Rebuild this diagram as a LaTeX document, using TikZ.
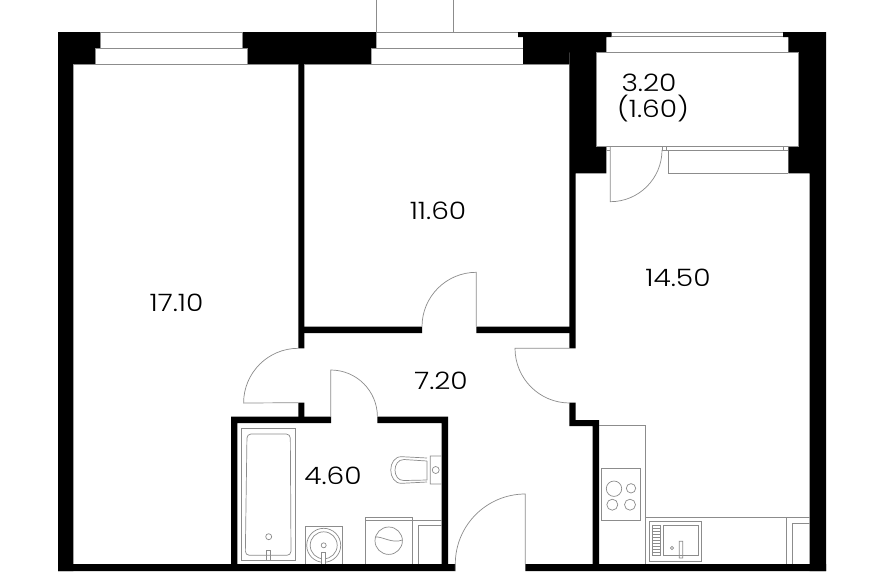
\documentclass[tikz,border=0pt]{standalone}
\usepackage{fontspec}
\setmainfont[FakeStretch=1.17]{Poppins Light}
\tikzset{
  wall/.style={fill=black,draw=none},
  thin line/.style={draw=black!45,line width=0.7pt,fill=none},
  area label/.style={font=\fontsize{24}{24}\selectfont,text=black,inner sep=0pt,anchor=center,align=center}
}
\begin{document}
\begin{tikzpicture}[x=1pt,y=-1pt]
\useasboundingbox (0,0) rectangle (883,571);
\fill[white] (0,0) rectangle (883,571);
% Exterior mass
\fill[wall] (58,32) rectangle (100.5,48) (58,48) rectangle (95.5,64) (58,64) rectangle (73.4,571);
\fill[wall] (242,32) rectangle (376.3,48) (247,48) rectangle (371.3,64);
\fill[wall] (518,32) rectangle (611.7,37) (523,37) rectangle (606.3,52.3) (523,48) rectangle (569.3,64);
\fill[wall] (569.3,52) rectangle (596.3,146) (569.3,146) rectangle (606.3,173.3) (569.3,173.3) rectangle (575.7,348.3);
\fill[wall] (783,32) rectangle (826,37) (788.3,37) rectangle (826,52.3) (798,52.3) rectangle (826,146) (788.3,146) rectangle (826,173.3) (809.7,173.3) rectangle (826,571);
% Bottom
\fill[wall] (58,564) rectangle (455.3,571) (525.3,564) rectangle (826,571);
% Partitions
\fill[wall] (298.3,64) rectangle (304.3,348.3) (298.3,402.7) rectangle (304.3,417);
\fill[wall] (304,326.7) rectangle (422,333) (476.3,326.7) rectangle (570,333);
\fill[wall] (569.3,402.7) rectangle (575.5,426) (569.3,420) rectangle (599,426) (592.7,420) rectangle (599,564);
\fill[wall] (231,416.7) rectangle (331,423) (377.3,416.7) rectangle (448,423) (231,416.7) rectangle (237.3,564) (441.7,416.7) rectangle (448,564);
% Windows
\draw[thin line] (100.5,32.3) -- (242,32.3) (95.5,48.3) -- (247,48.3) (73.4,64) -- (298.3,64);
\draw[thin line] (95.5,48.3) -- (95.5,64) (247,48.3) -- (247,64) (100.5,32.3) -- (100.5,48.3) (242,32.3) -- (242,48.3);
\draw[thin line] (376.3,0) -- (376.3,32.3) -- (518,32.3) (453.7,0) -- (453.7,32.3) (371.3,48.3) -- (523,48.3) (304.3,64) -- (569.3,64);
\draw[thin line] (611.7,32.3) -- (783,32.3) (611.7,36.7) -- (783,36.7) (606.3,52.3) -- (788.3,52.3) (596.3,52.3) rectangle (798,146);
\draw[thin line] (606.3,146) -- (606.3,150.3) -- (610.3,150.3) (662,146) -- (662,150.3) -- (668.3,150.3) (666,146) -- (666,150.3) (668.3,150.3) -- (783,150.3) -- (783,146) (783,150.3) -- (788.3,150.3) (668.3,150.3) -- (668.3,173.3) -- (788.3,173.3);
% Doors
\draw[thin line] (610.3,146) -- (610.3,201.7) arc[start angle=90,end angle=0,radius=51.7];
\draw[thin line] (476.3,326.7) -- (476.3,272.3) arc[start angle=-90,end angle=-180,radius=54.3];
\draw[thin line] (298.3,348.3) arc[start angle=-90,end angle=-180,radius=54.7] -- (298.3,402.7);
\draw[thin line] (569.7,348.3) -- (515,348.3) arc[start angle=180,end angle=90,radius=54.7];
\draw[thin line] (330.7,417) -- (330.7,370) arc[start angle=-90,end angle=0,radius=46.7];
\draw[thin line] (525.3,564) -- (525.3,494) arc[start angle=-90,end angle=-180,radius=70] -- (455.3,571);
% Bath
\draw[thin line] (241.7,428.3) rectangle (295.7,560.3);
\draw[thin line,rounded corners=4pt] (247,434) -- (290.3,434) -- (291,555.3) -- (245.3,555.3) -- cycle;
\draw[thin line] (268.7,536.7) circle[radius=3];
\draw[thin line] (266.3,560.3) -- (266.3,550.3) -- (270.3,550.3) -- (270.3,560.3);
% Basin
\draw[thin line] (305.3,564) -- (305.3,526.7) -- (342.7,526.7) -- (342.7,564);
\draw[thin line] (323.7,545.3) circle[radius=17] (323.7,545.3) circle[radius=13.5] (323.7,545.3) circle[radius=2.5];
\draw[thin line,fill=white] (321.7,564) -- (321.7,552.7) -- (325.3,552.7) -- (325.3,564);
% Washer
\draw[thin line] (365.3,564) -- (365.3,517.3) -- (412,517.3) -- (412,564) (365.3,520) -- (441.7,520) (418.3,564) -- (418.3,525) -- (441.7,525);
\draw[thin line] (388.7,540.7) circle[radius=13.7];
\draw[thin line] (375,537) .. controls (382,536) and (392,544) .. (402.4,540);
% Toilet
\draw[thin line] (441.7,456) -- (430.3,456) -- (430.3,484) -- (441.7,484) (435.7,470) circle[radius=3.5];
\draw[thin line] (427,461) -- (427,480) (427,458) -- (402,456.7) .. controls (387,456) and (387,484) .. (402,483.3) -- (427,482);
\draw[thin line] (427,461) -- (404,459.5) .. controls (392,459.5) and (392,481) .. (404,480.5) -- (427,480);
% Kitchen
\draw[thin line] (599,425) -- (645.3,425) -- (645.3,564) (645.3,517.3) -- (809.7,517.3) (786.7,517.3) -- (786.7,564) (792.3,564) -- (792.3,523.7) -- (809.7,523.7);
\draw[thin line] (601.7,468.3) rectangle (640.7,520.3);
\draw[thin line] (614,488.7) circle[radius=7.7] (631,488.3) circle[radius=4.7] (612.3,504.7) circle[radius=5.5] (630,504.7) circle[radius=5.5];
\draw[thin line] (649.3,521.7) rectangle (701.7,561) (663,525) rectangle (698.7,555.3) (652.3,525) rectangle (660,555);
\foreach \yy in {528,531,534,537,540,543,546,549,552} \draw[thin line,line width=0.5pt] (652.3,\yy) -- (660,\yy);
\draw[thin line] (672,548) circle[radius=1.7] (679.3,541.3) rectangle (682.7,558);
% Labels
\node[area label] (a) at (176.5,302.5) {17.10};
\node[area label] (b) at (438,210.5) {11.60};
\node[area label] (c) at (678,277.5) {14.50};
\node[area label] (d) at (441,380.5) {7.20};
\node[area label] (e) at (333,475.5) {4.60};
\node[area label] (f) at (649,82.5) {3.20};
\node[area label] (g) at (653,108.5) {(1.60)};
\end{tikzpicture}
\end{document}
